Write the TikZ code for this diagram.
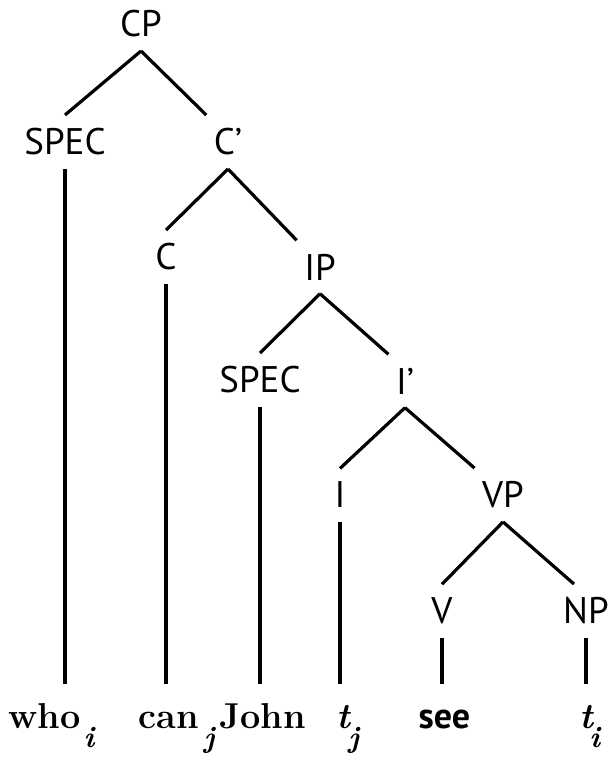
\documentclass[tikz,border=0pt]{standalone}
\usepackage{fontspec}
\newfontfamily\catfont{PT Sans}
\usetikzlibrary{positioning}
\newcommand\idx[1]{\raisebox{-19pt}{\fontsize{30}{30}\selectfont\itshape #1}}

\begin{document}
\begin{tikzpicture}[x=1pt,y=-1pt,on grid,line width=3.2pt,
        cat/.style={font=\fontsize{37}{40}\selectfont\catfont,inner xsep=6pt,inner ysep=12pt},
        leaf/.style={font=\fontsize{36}{40}\selectfont\bfseries,anchor=base west,
            inner xsep=0pt,inner ysep=12pt,text height=30pt}]
            \useasboundingbox (0,0) rectangle (608,757);
            % categories
            \node[cat] (CP) at (141,24) {CP};
            \node[cat] (SPEC_1) [below left=118pt and 76pt of CP] {SPEC};
            \node[cat] (C_1) [below right=118pt and 87pt of CP] {C’};
            \node[cat] (C_0) [below left=115pt and 62pt of C_1] {C};
            \node[cat] (IP) [below right=125pt and 92pt of C_1] {IP};
            \node[cat] (SPEC_2) [below left=113pt and 60pt of IP] {SPEC};
            \node[cat] (I_1) [below right=114pt and 85pt of IP] {I’};
            \node[cat] (I_0) [below left=114pt and 65pt of I_1] {I};
            \node[cat] (VP) [below right=114pt and 98pt of I_1] {VP};
            \node[cat] (V_0) [below left=116pt and 61pt of VP] {V};
            \node[cat] (NP) [below right=116pt and 83pt of VP] {NP};
            % words
            \node[leaf] (L_1) at (7,728) {who\kern3pt\idx{i}};
            \node[leaf] (L_2) at (137,728) {can\kern5pt\idx{j}};
            \node[leaf] (L_3) at (218,728) {John};
            \node[leaf] (L_4) at (335,728) {\itshape t\kern-2pt\idx{j}};
            \node[leaf] (L_5) at (417,728) {\catfont see};
            \node[leaf] (L_6) at (578,728) {\itshape t\kern-4pt\idx{i}};
            \path
                (CP.south) edge (SPEC_1.north)
                           edge (C_1.north west)
                (C_1.south) edge (C_0.north)
                            edge (IP.north west)
                (IP.south) edge (SPEC_2.north)
                           edge (I_1.north west)
                (I_1.south) edge (I_0.north)
                            edge (VP.north west)
                (VP.south) edge (V_0.north)
                           edge ([xshift=-12pt]NP.north)
                (SPEC_1.south) edge (SPEC_1.south |- L_1.north)
                (C_0.south) edge (C_0.south |- L_2.north)
                (SPEC_2.south) edge (SPEC_2.south |- L_3.north)
                (I_0.south) edge (I_0.south |- L_4.north)
                (V_0.south) edge (V_0.south |- L_5.north)
                (NP.south) edge (NP.south |- L_6.north);
        \end{tikzpicture}
\end{document}
